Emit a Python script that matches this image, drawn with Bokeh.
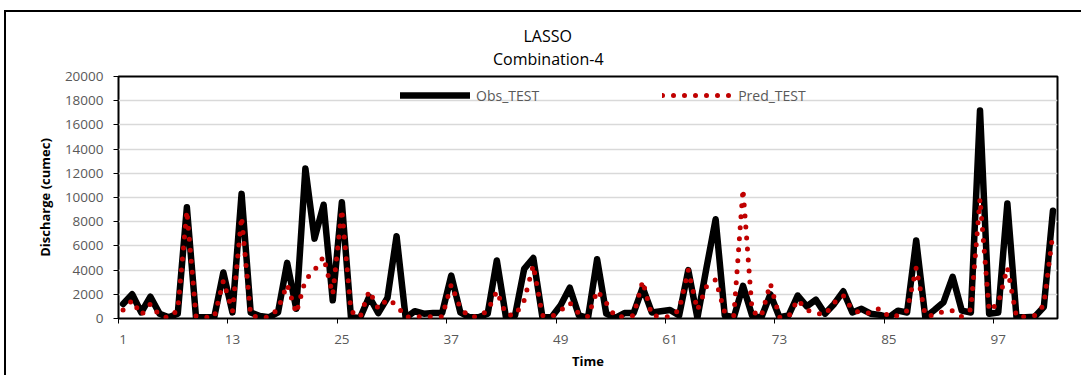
from bokeh.plotting import figure
from bokeh.models import (Range1d, LinearAxis, FixedTicker, CustomJSTickFormatter,
                          NumeralTickFormatter, Title, Legend, GlobalInlineStyleSheet)
from bokeh.embed import file_html
from bokeh.resources import INLINE

# ---------------- data ----------------
time_idx = list(range(1, 104))
obs_test = [1200, 2000, 500, 1800, 400, 100, 400, 9200, 100, 100,
            100, 3800, 500, 10300, 500, 200, 100, 500, 4600, 800,
            12400, 6600, 9400, 1500, 9600, 100, 50, 1800, 450, 1700,
            6800, 50, 600, 400, 450, 450, 3550, 500, 100, 100,
            400, 4800, 100, 250, 4100, 5000, 100, 100, 1100, 2550,
            250, 50, 4900, 400, 50, 450, 450, 2550, 500, 600,
            700, 250, 4000, 50, 4200, 8200, 250, 100, 2700, 250,
            50, 2000, 100, 250, 1900, 1000, 1550, 400, 1200, 2250,
            500, 800, 400, 300, 100, 650, 500, 6450, 100, 700,
            1350, 3450, 650, 500, 17200, 400, 500, 9500, 100, 100,
            150, 950, 8900]
pred_test = [700, 1500, 300, 1200, 250, 50, 700, 8900, 200, 100,
             100, 3100, 600, 8400, 250, 100, 100, 800, 2800, 450,
             3200, 4000, 5100, 2000, 9000, 600, 100, 2300, 800, 1600,
             1100, 100, 150, 150, 150, 150, 2800, 850, 150, 150,
             650, 2250, 330, 250, 1500, 4400, 250, 150, 650, 1300,
             400, 150, 2300, 1300, 150, 150, 250, 3100, 250, 150,
             150, 700, 4000, 700, 2650, 3200, 500, 250, 10700, 600,
             150, 2900, 100, 150, 1550, 700, 450, 300, 1300, 1900,
             700, 450, 450, 850, 150, 250, 650, 4200, 250, 250,
             600, 650, 150, 750, 9900, 650, 1250, 4200, 150, 150,
             250, 1100, 7100]
x_tick_labels = [1, 13, 25, 37, 49, 61, 73, 85, 97]
x_tick_marks = [0.5, 12.5, 24.5, 36.5, 48.5, 60.5, 72.5, 84.5, 96.5]
y_ticks = list(range(0, 20001, 2000))
title_main = "LASSO"
title_sub = "Combination-4"

FONT = "Open Sans"

p = figure(width=1082, height=365,
           x_range=Range1d(0.5, 103.5), y_range=Range1d(0, 20000),
           x_axis_location=None, y_axis_location="left",
           output_backend="svg", toolbar_location=None,
           min_border_left=112, min_border_right=31,
           min_border_top=64, min_border_bottom=59)
p.title = None
p.stylesheets = [GlobalInlineStyleSheet(css="html, body { overflow: hidden; }")]
p.styles = {"position": "relative", "left": "4px", "top": "10px",
            "border-left": "2px solid #000000", "border-top": "2px solid #000000",
            "border-right": "none", "border-bottom": "none"}

p.background_fill_color = "white"
p.border_fill_color = "white"
p.outline_line_color = "#000000"
p.outline_line_width = 2

# grid
p.xgrid.visible = False
p.ygrid.ticker = FixedTicker(ticks=y_ticks)
p.ygrid.grid_line_color = "#D9D9D9"
p.ygrid.grid_line_width = 1.5

# y axis
ya = p.yaxis[0]
ya.ticker = FixedTicker(ticks=y_ticks)
ya.formatter = NumeralTickFormatter(format="0")
ya.axis_line_color = None
ya.major_tick_out = 5
ya.major_tick_in = 0
ya.major_tick_line_color = "#000000"
ya.minor_tick_line_color = None
ya.major_label_standoff = 10
ya.major_label_text_font = FONT
ya.major_label_text_font_size = "13.5px"
ya.major_label_text_color = "#595959"
ya.axis_label = "Discharge (cumec)"
ya.axis_label_text_font = FONT
ya.axis_label_text_font_size = "13px"
ya.axis_label_text_font_style = "bold"
ya.axis_label_text_color = "#000000"
ya.axis_label_standoff = 8

# x axis: tick marks between categories
xa_ticks = LinearAxis(ticker=FixedTicker(ticks=x_tick_marks),
                      formatter=CustomJSTickFormatter(code="return ''"))
xa_ticks.axis_line_color = None
xa_ticks.major_tick_out = 5
xa_ticks.major_tick_in = 0
xa_ticks.major_tick_line_color = "#000000"
xa_ticks.minor_tick_line_color = None
xa_ticks.major_label_text_font_size = "0px"
xa_ticks.major_label_standoff = 0
p.add_layout(xa_ticks, "below")

# x axis: labels at categories
xa_lab = LinearAxis(ticker=FixedTicker(ticks=x_tick_labels))
xa_lab.axis_line_color = None
xa_lab.major_tick_out = 0
xa_lab.major_tick_in = 0
xa_lab.minor_tick_line_color = None
xa_lab.major_label_standoff = 11
xa_lab.major_label_text_font = FONT
xa_lab.major_label_text_font_size = "13.5px"
xa_lab.major_label_text_color = "#595959"
xa_lab.axis_label = "Time"
xa_lab.axis_label_text_font = FONT
xa_lab.axis_label_text_font_size = "13px"
xa_lab.axis_label_text_font_style = "bold"
xa_lab.axis_label_text_color = "#000000"
xa_lab.axis_label_standoff = 5
p.add_layout(xa_lab, "below")

# titles
t_sub = Title(text=title_sub, align="left", offset=374.5, standoff=14,
              text_font=FONT, text_font_size="16px", text_font_style="normal",
              text_color="#000000")
t_main = Title(text=title_main, align="left", offset=405, standoff=0,
               text_font=FONT, text_font_size="16px", text_font_style="normal",
               text_color="#000000")
try:
    t_main.standoff = -17
except Exception:
    t_main.standoff = 0
p.add_layout(t_sub, "above")
p.add_layout(t_main, "above")

# series
r_obs = p.line(time_idx, obs_test, line_color="#000000", line_width=6.5,
               line_join="round", line_cap="round")
r_pred = p.line(time_idx, pred_test, line_color="#C00000", line_width=5,
                line_dash="0 11", line_join="round", line_cap="round")

legend = Legend(items=[("Obs_TEST", [r_obs]), ("Pred_TEST", [r_pred])],
                location=(282, 213), orientation="horizontal",
                glyph_width=70, glyph_height=20, label_standoff=6,
                spacing=123, padding=0, margin=0,
                border_line_color=None, background_fill_alpha=0,
                label_text_font=FONT, label_text_font_size="14px",
                label_text_color="#595959")
p.add_layout(legend, "center")

open("out.html", "w").write(file_html(p, INLINE))
